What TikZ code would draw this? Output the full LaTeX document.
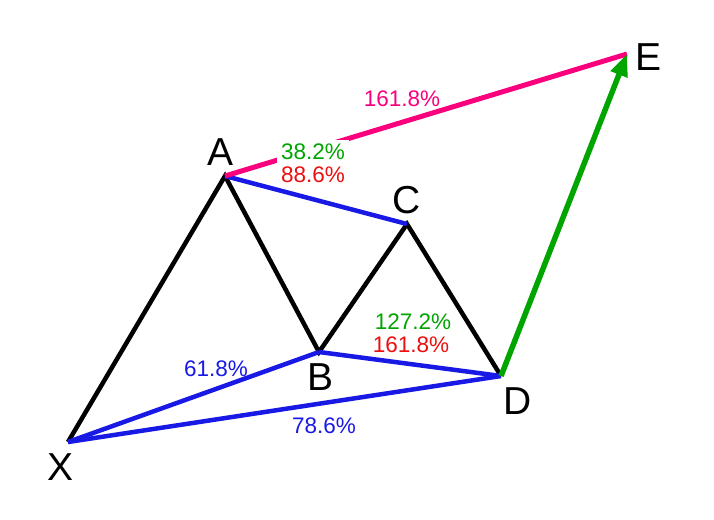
\documentclass[tikz,border=0pt]{standalone}
\usepackage{fontspec}
\setsansfont{Liberation Sans}
\usetikzlibrary{arrows.meta}

\definecolor{legpink}{RGB}{250,0,125}
\definecolor{leggreen}{RGB}{0,165,0}
\definecolor{legred}{RGB}{235,15,15}
\definecolor{legblue}{RGB}{25,25,230}

\begin{document}
\begin{tikzpicture}[
    x=1pt, y=-1pt,
    every node/.style={font=\sffamily},
    vtx/.style={font=\sffamily\fontsize{39}{44}\selectfont, inner sep=0pt},
    pct/.style={font=\sffamily\fontsize{22.5}{26}\selectfont, inner sep=0pt},
    leg/.style={line width=4.5pt, line join=miter}
]
\useasboundingbox (0,0) rectangle (714,519);

% 顶点
\coordinate (ptX) at (68,442);
\coordinate (ptA) at (225,176);
\coordinate (ptB) at (319,352);
\coordinate (ptC) at (407,224);
\coordinate (ptD) at (501,376);
\coordinate (ptE) at (627,54);

% 黑色折线
\draw[leg, black] (ptX) -- (ptA) -- (ptB) -- (ptC) -- (ptD);

% 蓝色回撤线
\draw[leg, legblue] (ptA) -- (ptC);
\draw[leg, legblue] (ptB) -- (ptD);
\draw[leg, legblue] (ptX) -- (ptB);
\draw[leg, legblue] (ptX) -- (ptD);

% 粉色与绿色
\draw[legpink, line width=5pt] (ptA) -- (ptE);
\draw[leggreen, line width=5.5pt, -{Triangle[length=22pt, width=17pt]}] (ptD) -- (ptE);

% 顶点标签
\node[vtx] (lblX) at (61,467) {X};
\node[vtx] (lblA) at (221,152) {A};
\node[vtx] (lblB) at (321,377) {B};
\node[vtx] (lblC) at (407,200) {C};
\node[vtx] (lblD) at (518,401) {D};
\node[vtx] (lblE) at (648,57) {E};

% 比例标签
\node[pct, legpink] (pctAE) at (402,99) {161.8\%};
\node[pct, leggreen, fill=white, inner sep=4pt] (pctAg) at (313,152) {38.2\%};
\node[pct, legred] (pctAr) at (313,175) {88.6\%};
\node[pct, leggreen] (pctCg) at (413,322) {127.2\%};
\node[pct, legred] (pctCr) at (411,345) {161.8\%};
\node[pct, legblue] (pctXB) at (216,369) {61.8\%};
\node[pct, legblue] (pctXD) at (324,426) {78.6\%};

\end{tikzpicture}
\end{document}
